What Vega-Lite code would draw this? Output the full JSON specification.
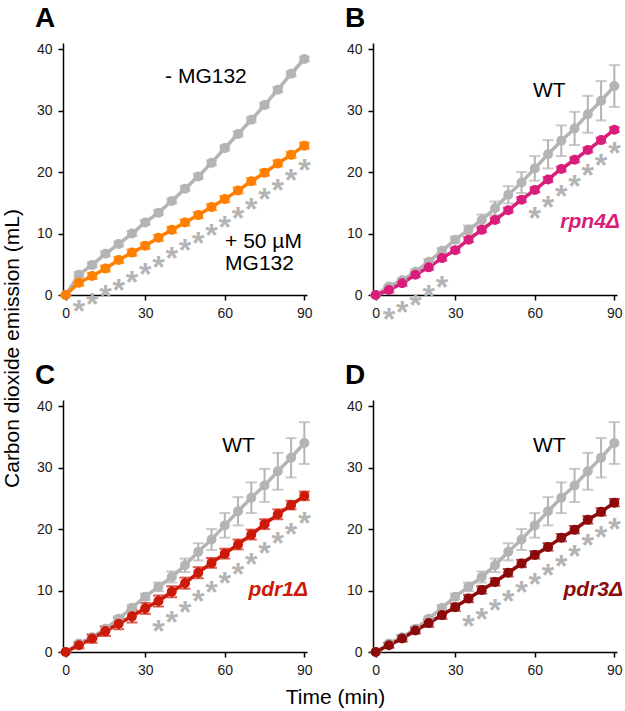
{
  "$schema": "https://vega.github.io/schema/vega-lite/v6.json",
  "autosize": {"type": "none"},
  "padding": {"left": 63, "top": 43, "right": 562, "bottom": 668},
  "background": "white",
  "bounds": "flush",
  "columns": 2,
  "spacing": {"row": 105, "column": 66},
  "config": {
    "view": {"stroke": null},
    "font": "Liberation Sans",
    "axis": {"grid": false, "domainColor": "#000000", "domainWidth": 1.5, "tickColor": "#000000", "tickWidth": 1.5, "tickSize": 5, "labelFont": "Liberation Sans", "labelFontSize": 14, "labelColor": "#1a1a1a", "labelPadding": 6, "titleFont": "Liberation Sans", "titleFontSize": 21, "titleFontWeight": "normal", "titleColor": "#000000"},
    "title": {"font": "Liberation Sans", "fontSize": 28, "fontWeight": "bold", "color": "#000000", "anchor": "start", "frame": "group", "dx": -28, "offset": 9, "baseline": "alphabetic"}
  },
  "datasets": {
    "series": [
      {"p":"A","s":"-MG132","t":0,"v":0,"e":0},{"p":"A","s":"-MG132","t":5,"v":3.3,"e":0.4},{"p":"A","s":"-MG132","t":10,"v":4.9,"e":0.4},{"p":"A","s":"-MG132","t":15,"v":6.7,"e":0.4},{"p":"A","s":"-MG132","t":20,"v":8.3,"e":0.4},{"p":"A","s":"-MG132","t":25,"v":10.0,"e":0.4},{"p":"A","s":"-MG132","t":30,"v":11.8,"e":0.4},{"p":"A","s":"-MG132","t":35,"v":13.4,"e":0.4},{"p":"A","s":"-MG132","t":40,"v":15.3,"e":0.4},{"p":"A","s":"-MG132","t":45,"v":17.3,"e":0.4},{"p":"A","s":"-MG132","t":50,"v":19.3,"e":0.4},{"p":"A","s":"-MG132","t":55,"v":21.5,"e":0.4},{"p":"A","s":"-MG132","t":60,"v":23.9,"e":0.4},{"p":"A","s":"-MG132","t":65,"v":26.2,"e":0.4},{"p":"A","s":"-MG132","t":70,"v":28.5,"e":0.4},{"p":"A","s":"-MG132","t":75,"v":30.9,"e":0.4},{"p":"A","s":"-MG132","t":80,"v":33.4,"e":0.4},{"p":"A","s":"-MG132","t":85,"v":36.0,"e":0.4},{"p":"A","s":"-MG132","t":90,"v":38.4,"e":0.4},
      {"p":"A","s":"+MG132","t":0,"v":0,"e":0},{"p":"A","s":"+MG132","t":5,"v":2.0,"e":0.5},{"p":"A","s":"+MG132","t":10,"v":3.1,"e":0.5},{"p":"A","s":"+MG132","t":15,"v":4.3,"e":0.5},{"p":"A","s":"+MG132","t":20,"v":5.7,"e":0.5},{"p":"A","s":"+MG132","t":25,"v":6.9,"e":0.5},{"p":"A","s":"+MG132","t":30,"v":8.0,"e":0.5},{"p":"A","s":"+MG132","t":35,"v":9.3,"e":0.5},{"p":"A","s":"+MG132","t":40,"v":10.6,"e":0.5},{"p":"A","s":"+MG132","t":45,"v":11.8,"e":0.5},{"p":"A","s":"+MG132","t":50,"v":13.0,"e":0.5},{"p":"A","s":"+MG132","t":55,"v":14.3,"e":0.5},{"p":"A","s":"+MG132","t":60,"v":15.6,"e":0.5},{"p":"A","s":"+MG132","t":65,"v":17.0,"e":0.5},{"p":"A","s":"+MG132","t":70,"v":18.5,"e":0.5},{"p":"A","s":"+MG132","t":75,"v":19.9,"e":0.5},{"p":"A","s":"+MG132","t":80,"v":21.4,"e":0.5},{"p":"A","s":"+MG132","t":85,"v":22.8,"e":0.5},{"p":"A","s":"+MG132","t":90,"v":24.3,"e":0.5},
      {"p":"WT","s":"WT","t":0,"v":0,"e":0},{"p":"WT","s":"WT","t":5,"v":1.4,"e":0.2},{"p":"WT","s":"WT","t":10,"v":2.4,"e":0.3},{"p":"WT","s":"WT","t":15,"v":3.8,"e":0.3},{"p":"WT","s":"WT","t":20,"v":5.4,"e":0.4},{"p":"WT","s":"WT","t":25,"v":7.2,"e":0.4},{"p":"WT","s":"WT","t":30,"v":9.0,"e":0.5},{"p":"WT","s":"WT","t":35,"v":10.6,"e":0.7},{"p":"WT","s":"WT","t":40,"v":12.2,"e":0.9},{"p":"WT","s":"WT","t":45,"v":14.1,"e":1.1},{"p":"WT","s":"WT","t":50,"v":16.3,"e":1.4},{"p":"WT","s":"WT","t":55,"v":18.3,"e":1.7},{"p":"WT","s":"WT","t":60,"v":20.6,"e":2.0},{"p":"WT","s":"WT","t":65,"v":22.9,"e":2.3},{"p":"WT","s":"WT","t":70,"v":25.1,"e":2.5},{"p":"WT","s":"WT","t":75,"v":27.1,"e":2.7},{"p":"WT","s":"WT","t":80,"v":29.4,"e":3.0},{"p":"WT","s":"WT","t":85,"v":31.6,"e":3.2},{"p":"WT","s":"WT","t":90,"v":34.0,"e":3.4},
      {"p":"B","s":"rpn4","t":0,"v":0,"e":0},{"p":"B","s":"rpn4","t":5,"v":0.8,"e":0.4},{"p":"B","s":"rpn4","t":10,"v":1.9,"e":0.4},{"p":"B","s":"rpn4","t":15,"v":3.3,"e":0.4},{"p":"B","s":"rpn4","t":20,"v":4.5,"e":0.4},{"p":"B","s":"rpn4","t":25,"v":6.0,"e":0.4},{"p":"B","s":"rpn4","t":30,"v":7.3,"e":0.4},{"p":"B","s":"rpn4","t":35,"v":9.0,"e":0.4},{"p":"B","s":"rpn4","t":40,"v":10.6,"e":0.4},{"p":"B","s":"rpn4","t":45,"v":12.2,"e":0.4},{"p":"B","s":"rpn4","t":50,"v":13.8,"e":0.4},{"p":"B","s":"rpn4","t":55,"v":15.5,"e":0.4},{"p":"B","s":"rpn4","t":60,"v":17.1,"e":0.4},{"p":"B","s":"rpn4","t":65,"v":18.8,"e":0.4},{"p":"B","s":"rpn4","t":70,"v":20.5,"e":0.4},{"p":"B","s":"rpn4","t":75,"v":22.0,"e":0.4},{"p":"B","s":"rpn4","t":80,"v":23.6,"e":0.4},{"p":"B","s":"rpn4","t":85,"v":25.2,"e":0.4},{"p":"B","s":"rpn4","t":90,"v":26.9,"e":0.4},
      {"p":"C","s":"pdr1","t":0,"v":0,"e":0},{"p":"C","s":"pdr1","t":5,"v":1.1,"e":0.5},{"p":"C","s":"pdr1","t":10,"v":2.2,"e":0.7},{"p":"C","s":"pdr1","t":15,"v":3.4,"e":0.8},{"p":"C","s":"pdr1","t":20,"v":4.6,"e":0.9},{"p":"C","s":"pdr1","t":25,"v":5.8,"e":1.0},{"p":"C","s":"pdr1","t":30,"v":7.1,"e":0.9},{"p":"C","s":"pdr1","t":35,"v":8.3,"e":0.9},{"p":"C","s":"pdr1","t":40,"v":9.8,"e":0.9},{"p":"C","s":"pdr1","t":45,"v":11.2,"e":0.9},{"p":"C","s":"pdr1","t":50,"v":12.9,"e":0.9},{"p":"C","s":"pdr1","t":55,"v":14.5,"e":0.8},{"p":"C","s":"pdr1","t":60,"v":16.0,"e":0.8},{"p":"C","s":"pdr1","t":65,"v":17.5,"e":0.8},{"p":"C","s":"pdr1","t":70,"v":19.1,"e":0.8},{"p":"C","s":"pdr1","t":75,"v":20.8,"e":0.8},{"p":"C","s":"pdr1","t":80,"v":22.4,"e":0.8},{"p":"C","s":"pdr1","t":85,"v":23.9,"e":0.7},{"p":"C","s":"pdr1","t":90,"v":25.4,"e":0.7},
      {"p":"D","s":"pdr3","t":0,"v":0,"e":0},{"p":"D","s":"pdr3","t":5,"v":1.1,"e":0.4},{"p":"D","s":"pdr3","t":10,"v":2.2,"e":0.5},{"p":"D","s":"pdr3","t":15,"v":3.5,"e":0.5},{"p":"D","s":"pdr3","t":20,"v":4.7,"e":0.6},{"p":"D","s":"pdr3","t":25,"v":6.0,"e":0.6},{"p":"D","s":"pdr3","t":30,"v":7.3,"e":0.6},{"p":"D","s":"pdr3","t":35,"v":8.7,"e":0.6},{"p":"D","s":"pdr3","t":40,"v":10.1,"e":0.6},{"p":"D","s":"pdr3","t":45,"v":11.4,"e":0.6},{"p":"D","s":"pdr3","t":50,"v":12.9,"e":0.6},{"p":"D","s":"pdr3","t":55,"v":14.4,"e":0.6},{"p":"D","s":"pdr3","t":60,"v":15.8,"e":0.6},{"p":"D","s":"pdr3","t":65,"v":17.1,"e":0.6},{"p":"D","s":"pdr3","t":70,"v":18.6,"e":0.6},{"p":"D","s":"pdr3","t":75,"v":19.9,"e":0.6},{"p":"D","s":"pdr3","t":80,"v":21.5,"e":0.6},{"p":"D","s":"pdr3","t":85,"v":22.8,"e":0.6},{"p":"D","s":"pdr3","t":90,"v":24.3,"e":0.6}
    ],
    "stars": [
      {"p":"A","t":5,"v":-1.4},{"p":"A","t":10,"v":-0.4},{"p":"A","t":15,"v":0.9},{"p":"A","t":20,"v":2.0},{"p":"A","t":25,"v":3.3},{"p":"A","t":30,"v":4.6},{"p":"A","t":35,"v":5.7},{"p":"A","t":40,"v":7.1},{"p":"A","t":45,"v":8.4},{"p":"A","t":50,"v":9.6},{"p":"A","t":55,"v":10.9},{"p":"A","t":60,"v":12.2},{"p":"A","t":65,"v":13.6},{"p":"A","t":70,"v":15.2},{"p":"A","t":75,"v":16.7},{"p":"A","t":80,"v":18.3},{"p":"A","t":85,"v":19.8},{"p":"A","t":90,"v":21.4},
      {"p":"B","t":5,"v":-2.8},{"p":"B","t":10,"v":-1.7},{"p":"B","t":15,"v":-0.5},{"p":"B","t":20,"v":0.9},{"p":"B","t":25,"v":2.4},{"p":"B","t":60,"v":13.7},{"p":"B","t":65,"v":15.5},{"p":"B","t":70,"v":17.2},{"p":"B","t":75,"v":18.9},{"p":"B","t":80,"v":20.6},{"p":"B","t":85,"v":22.3},{"p":"B","t":90,"v":24.2},
      {"p":"C","t":35,"v":4.6},{"p":"C","t":40,"v":6.1},{"p":"C","t":45,"v":7.6},{"p":"C","t":50,"v":9.4},{"p":"C","t":55,"v":10.9},{"p":"C","t":60,"v":12.3},{"p":"C","t":65,"v":13.9},{"p":"C","t":70,"v":15.5},{"p":"C","t":75,"v":17.2},{"p":"C","t":80,"v":18.9},{"p":"C","t":85,"v":20.4},{"p":"C","t":90,"v":22.1},
      {"p":"D","t":35,"v":5.3},{"p":"D","t":40,"v":6.5},{"p":"D","t":45,"v":8.0},{"p":"D","t":50,"v":9.5},{"p":"D","t":55,"v":10.9},{"p":"D","t":60,"v":12.2},{"p":"D","t":65,"v":13.7},{"p":"D","t":70,"v":15.1},{"p":"D","t":75,"v":16.8},{"p":"D","t":80,"v":18.5},{"p":"D","t":85,"v":19.9},{"p":"D","t":90,"v":21.2}
    ],
    "labels": [
      {"p":"A","kind":"plain","t":37.5,"v":34.5,"label":"- MG132"},
      {"p":"A","kind":"plain","t":60.1,"v":7.6,"label":"+ 50 µM"},
      {"p":"A","kind":"plain","t":60.1,"v":4.0,"label":"MG132"},
      {"p":"B","kind":"plain","t":59.3,"v":32.2,"label":"WT"},
      {"p":"C","kind":"plain","t":59.0,"v":32.5,"label":"WT"},
      {"p":"D","kind":"plain","t":59.3,"v":32.5,"label":"WT"},
      {"p":"B","kind":"strain","t":92.1,"v":10.9,"label":"rpn4Δ"},
      {"p":"C","kind":"strain","t":91.4,"v":9.1,"label":"pdr1Δ"},
      {"p":"D","kind":"strain","t":93.3,"v":9.1,"label":"pdr3Δ"}
    ]
  },
  "concat": [
    {
      "width": 244, "height": 252,
      "title": {"text": "A"},
      "encoding": {
        "x": {"field": "t", "type": "quantitative", "scale": {"domain": [-1, 91], "nice": false, "zero": false}, "axis": {"values": [0, 30, 60, 90], "title": null}},
        "y": {"field": "v", "type": "quantitative", "scale": {"domain": [0, 41], "nice": false}, "axis": {"values": [0, 10, 20, 30, 40], "title": "Carbon dioxide emission (mL)", "titleX": -51, "titleY": 305, "titleAlign": "center", "titleBaseline": "middle", "titleAngle": 270}},
        "color": {"field": "s", "type": "nominal", "legend": null, "scale": {"domain": ["-MG132", "+MG132", "WT", "rpn4", "pdr1", "pdr3"], "range": ["#b4b4b4", "#ff8000", "#b4b4b4", "#d81e7a", "#cc1a0a", "#8c0a0a"]}}
      },
      "layer": [
        {"data": {"name": "series"}, "transform": [{"filter": "datum.p == 'A'"}], "mark": {"type": "errorbar", "ticks": {"size": 11, "thickness": 2}, "rule": {"strokeWidth": 2}}, "encoding": {"yError": {"field": "e"}}},
        {"data": {"name": "series"}, "transform": [{"filter": "datum.p == 'A'"}], "mark": {"type": "line", "strokeWidth": 3.5}},
        {"data": {"name": "series"}, "transform": [{"filter": "datum.p == 'A'"}], "mark": {"type": "point", "filled": true, "size": 100, "opacity": 1}},
        {"data": {"name": "stars"}, "transform": [{"filter": "datum.p == 'A'"}], "mark": {"type": "text", "text": "*", "fontSize": 32, "fontWeight": "bold", "baseline": "alphabetic", "dy": 18, "color": "#b4b4b4"}, "encoding": {"color": {"value": "#b4b4b4"}}},
        {"data": {"name": "labels"}, "transform": [{"filter": "datum.p == 'A'"}], "mark": {"type": "text", "fontSize": 21, "align": "left", "baseline": "alphabetic", "color": "#000000"}, "encoding": {"text": {"field": "label"}, "color": {"value": "#000000"}}}
      ]
    },
    {
      "width": 244, "height": 252,
      "title": {"text": "B"},
      "encoding": {
        "x": {"field": "t", "type": "quantitative", "scale": {"domain": [-1, 91], "nice": false, "zero": false}, "axis": {"values": [0, 30, 60, 90], "title": null}},
        "y": {"field": "v", "type": "quantitative", "scale": {"domain": [0, 41], "nice": false}, "axis": {"values": [0, 10, 20, 30, 40], "title": null}},
        "color": {"field": "s", "type": "nominal", "legend": null, "scale": {"domain": ["-MG132", "+MG132", "WT", "rpn4", "pdr1", "pdr3"], "range": ["#b4b4b4", "#ff8000", "#b4b4b4", "#d81e7a", "#cc1a0a", "#8c0a0a"]}}
      },
      "layer": [
        {"data": {"name": "series"}, "transform": [{"filter": "datum.p == 'WT' || datum.p == 'B'"}], "mark": {"type": "errorbar", "ticks": {"size": 11, "thickness": 2}, "rule": {"strokeWidth": 2}}, "encoding": {"yError": {"field": "e"}}},
        {"data": {"name": "series"}, "transform": [{"filter": "datum.p == 'WT' || datum.p == 'B'"}], "mark": {"type": "line", "strokeWidth": 3.5}},
        {"data": {"name": "series"}, "transform": [{"filter": "datum.p == 'WT' || datum.p == 'B'"}], "mark": {"type": "point", "filled": true, "size": 100, "opacity": 1}},
        {"data": {"name": "stars"}, "transform": [{"filter": "datum.p == 'B'"}], "mark": {"type": "text", "text": "*", "fontSize": 32, "fontWeight": "bold", "baseline": "alphabetic", "dy": 18, "color": "#b4b4b4"}, "encoding": {"color": {"value": "#b4b4b4"}}},
        {"data": {"name": "labels"}, "transform": [{"filter": "datum.p == 'B' && datum.kind == 'plain'"}], "mark": {"type": "text", "fontSize": 21, "align": "left", "baseline": "alphabetic", "color": "#000000"}, "encoding": {"text": {"field": "label"}, "color": {"value": "#000000"}}},
        {"data": {"name": "labels"}, "transform": [{"filter": "datum.p == 'B' && datum.kind == 'strain'"}], "mark": {"type": "text", "fontSize": 21, "fontWeight": "bold", "fontStyle": "italic", "align": "right", "baseline": "alphabetic", "color": "#d81e7a"}, "encoding": {"text": {"field": "label"}, "color": {"value": "#d81e7a"}}}
      ]
    },
    {
      "width": 244, "height": 252,
      "title": {"text": "C"},
      "encoding": {
        "x": {"field": "t", "type": "quantitative", "scale": {"domain": [-1, 91], "nice": false, "zero": false}, "axis": {"values": [0, 30, 60, 90], "title": "Time (min)", "titleX": 272, "titleY": 45, "titleAlign": "center", "titleBaseline": "middle"}},
        "y": {"field": "v", "type": "quantitative", "scale": {"domain": [0, 41], "nice": false}, "axis": {"values": [0, 10, 20, 30, 40], "title": null}},
        "color": {"field": "s", "type": "nominal", "legend": null, "scale": {"domain": ["-MG132", "+MG132", "WT", "rpn4", "pdr1", "pdr3"], "range": ["#b4b4b4", "#ff8000", "#b4b4b4", "#d81e7a", "#cc1a0a", "#8c0a0a"]}}
      },
      "layer": [
        {"data": {"name": "series"}, "transform": [{"filter": "datum.p == 'WT' || datum.p == 'C'"}], "mark": {"type": "errorbar", "ticks": {"size": 11, "thickness": 2}, "rule": {"strokeWidth": 2}}, "encoding": {"yError": {"field": "e"}}},
        {"data": {"name": "series"}, "transform": [{"filter": "datum.p == 'WT' || datum.p == 'C'"}], "mark": {"type": "line", "strokeWidth": 3.5}},
        {"data": {"name": "series"}, "transform": [{"filter": "datum.p == 'WT' || datum.p == 'C'"}], "mark": {"type": "point", "filled": true, "size": 100, "opacity": 1}},
        {"data": {"name": "stars"}, "transform": [{"filter": "datum.p == 'C'"}], "mark": {"type": "text", "text": "*", "fontSize": 32, "fontWeight": "bold", "baseline": "alphabetic", "dy": 18, "color": "#b4b4b4"}, "encoding": {"color": {"value": "#b4b4b4"}}},
        {"data": {"name": "labels"}, "transform": [{"filter": "datum.p == 'C' && datum.kind == 'plain'"}], "mark": {"type": "text", "fontSize": 21, "align": "left", "baseline": "alphabetic", "color": "#000000"}, "encoding": {"text": {"field": "label"}, "color": {"value": "#000000"}}},
        {"data": {"name": "labels"}, "transform": [{"filter": "datum.p == 'C' && datum.kind == 'strain'"}], "mark": {"type": "text", "fontSize": 21, "fontWeight": "bold", "fontStyle": "italic", "align": "right", "baseline": "alphabetic", "color": "#cc1a0a"}, "encoding": {"text": {"field": "label"}, "color": {"value": "#cc1a0a"}}}
      ]
    },
    {
      "width": 244, "height": 252,
      "title": {"text": "D"},
      "encoding": {
        "x": {"field": "t", "type": "quantitative", "scale": {"domain": [-1, 91], "nice": false, "zero": false}, "axis": {"values": [0, 30, 60, 90], "title": null}},
        "y": {"field": "v", "type": "quantitative", "scale": {"domain": [0, 41], "nice": false}, "axis": {"values": [0, 10, 20, 30, 40], "title": null}},
        "color": {"field": "s", "type": "nominal", "legend": null, "scale": {"domain": ["-MG132", "+MG132", "WT", "rpn4", "pdr1", "pdr3"], "range": ["#b4b4b4", "#ff8000", "#b4b4b4", "#d81e7a", "#cc1a0a", "#8c0a0a"]}}
      },
      "layer": [
        {"data": {"name": "series"}, "transform": [{"filter": "datum.p == 'WT' || datum.p == 'D'"}], "mark": {"type": "errorbar", "ticks": {"size": 11, "thickness": 2}, "rule": {"strokeWidth": 2}}, "encoding": {"yError": {"field": "e"}}},
        {"data": {"name": "series"}, "transform": [{"filter": "datum.p == 'WT' || datum.p == 'D'"}], "mark": {"type": "line", "strokeWidth": 3.5}},
        {"data": {"name": "series"}, "transform": [{"filter": "datum.p == 'WT' || datum.p == 'D'"}], "mark": {"type": "point", "filled": true, "size": 100, "opacity": 1}},
        {"data": {"name": "stars"}, "transform": [{"filter": "datum.p == 'D'"}], "mark": {"type": "text", "text": "*", "fontSize": 32, "fontWeight": "bold", "baseline": "alphabetic", "dy": 18, "color": "#b4b4b4"}, "encoding": {"color": {"value": "#b4b4b4"}}},
        {"data": {"name": "labels"}, "transform": [{"filter": "datum.p == 'D' && datum.kind == 'plain'"}], "mark": {"type": "text", "fontSize": 21, "align": "left", "baseline": "alphabetic", "color": "#000000"}, "encoding": {"text": {"field": "label"}, "color": {"value": "#000000"}}},
        {"data": {"name": "labels"}, "transform": [{"filter": "datum.p == 'D' && datum.kind == 'strain'"}], "mark": {"type": "text", "fontSize": 21, "fontWeight": "bold", "fontStyle": "italic", "align": "right", "baseline": "alphabetic", "color": "#8c0a0a"}, "encoding": {"text": {"field": "label"}, "color": {"value": "#8c0a0a"}}}
      ]
    }
  ]
}
